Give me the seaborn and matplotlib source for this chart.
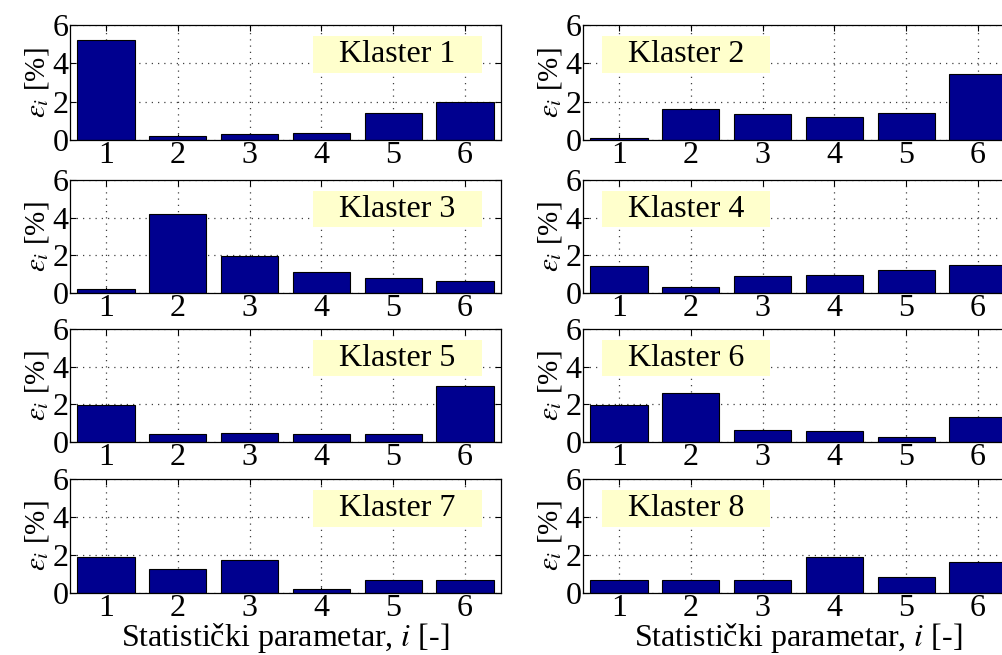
import pandas as pd
import seaborn as sns
import matplotlib.pyplot as plt
from matplotlib.patches import Rectangle

# Data: relative error per statistical parameter, for each cluster
params = [1, 2, 3, 4, 5, 6]
klaster_1 = [5.2, 0.22, 0.3, 0.38, 1.42, 2.0]
klaster_2 = [0.08, 1.6, 1.36, 1.2, 1.42, 3.45]
klaster_3 = [0.2, 4.2, 1.95, 1.1, 0.8, 0.62]
klaster_4 = [1.45, 0.3, 0.88, 0.95, 1.2, 1.5]
klaster_5 = [1.95, 0.4, 0.5, 0.4, 0.4, 2.95]
klaster_6 = [1.95, 2.62, 0.65, 0.58, 0.25, 1.32]
klaster_7 = [1.87, 1.25, 1.72, 0.2, 0.68, 0.68]
klaster_8 = [0.68, 0.68, 0.68, 1.88, 0.83, 1.63]
clusters = [klaster_1, klaster_2, klaster_3, klaster_4,
            klaster_5, klaster_6, klaster_7, klaster_8]
names = ["Klaster %d" % (k + 1) for k in range(8)]

sns.set_style("ticks")
plt.rcParams["font.family"] = ["Liberation Serif", "DejaVu Serif"]
plt.rcParams["mathtext.fontset"] = "stix"
plt.rcParams["text.color"] = "black"
plt.rcParams["axes.labelcolor"] = "black"

bar_color = "#00008F"
box_color = "#FFFFCC"

fig = plt.figure(figsize=(10.03, 6.55), dpi=100)
W, H = 1003, 655
# axes placement in pixels (right column runs past the figure edge, like the original)
col_left = [70, 583]
ax_w = 431
row_top = [25, 180, 329, 479]
row_bottom = [140, 293, 442, 593]

for k, vals in enumerate(clusters):
    r, c = k // 2, k % 2
    ax = fig.add_axes([col_left[c] / W, 1 - row_bottom[r] / H,
                       ax_w / W, (row_bottom[r] - row_top[r]) / H])
    df = pd.DataFrame({"i": params, "eps": vals})
    sns.barplot(data=df, x="i", y="eps", native_scale=True, color=bar_color,
                saturation=1, edgecolor="black", linewidth=0.8, width=0.8,
                errorbar=None, ax=ax)

    ax.set_xlim(0.5, 6.5)
    ax.set_ylim(0, 6)
    ax.set_xticks(params)
    ax.set_yticks([0, 2, 4, 6])
    ax.grid(True, linestyle=(0, (1, 4)), color="0.25", linewidth=0.9)
    ax.set_axisbelow(True)
    ax.tick_params(direction="in", top=True, right=True, length=4,
                   labelsize=23, pad=1, colors="black")
    for s in ax.spines.values():
        s.set_color("black")
        s.set_linewidth(0.9)

    ax.set_ylabel(r"$\varepsilon_i$ [%]", fontsize=21, labelpad=1)
    if r == 3:
        ax.set_xlabel(r"Statistički parametar, $i$ [-]", fontsize=23, labelpad=-2)
    else:
        ax.set_xlabel("")

    # label box
    bx = 0.564 if c == 0 else 0.043
    ax.add_patch(Rectangle((bx, 0.583), 0.392, 0.321, transform=ax.transAxes,
                           facecolor=box_color, edgecolor="none", zorder=3))
    ax.text(bx + 0.196, 0.74, names[k], transform=ax.transAxes, fontsize=23,
            ha="center", va="center", zorder=4)

fig.savefig("out.png", dpi=100)
